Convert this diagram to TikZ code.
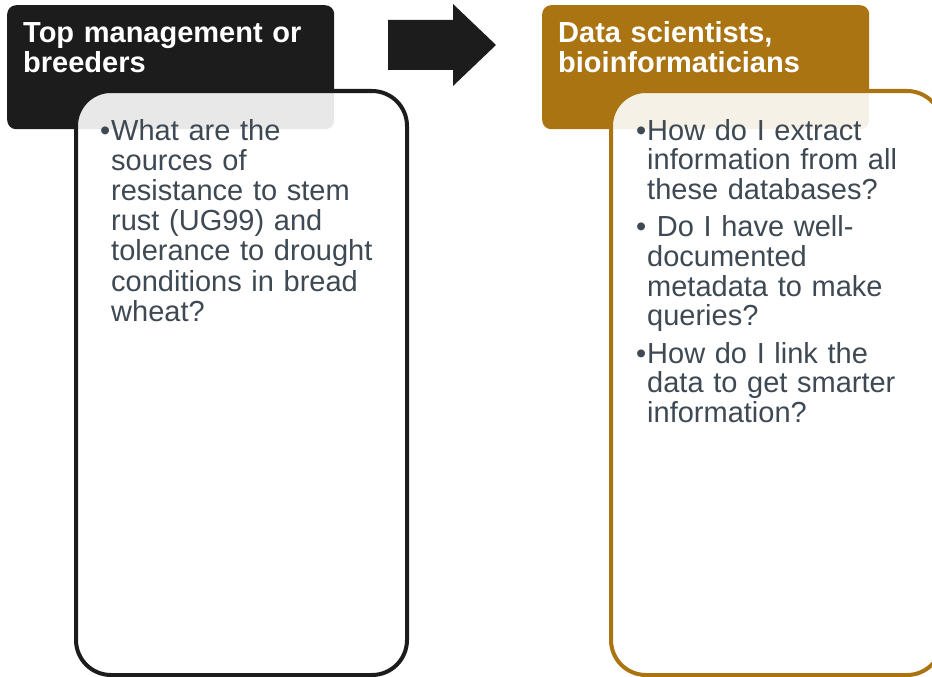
\documentclass[tikz,border=0pt]{standalone}
\usepackage{fontspec}
\setmainfont{Liberation Sans}
\definecolor{inkdark}{HTML}{1C1C1C}
\definecolor{gold}{HTML}{AA7412}
\definecolor{bodyc}{HTML}{3E4953}
\newcommand{\bulletmark}{\leavevmode\llap{•\hspace{1pt}}}
\begin{document}
\begin{tikzpicture}[x=1pt,y=-1pt]
\tikzset{
  hdr/.style={rectangle, rounded corners=9pt, minimum width=327pt, minimum height=124pt,
              anchor=north west, inner sep=0pt},
  card/.style={rectangle, rounded corners=35pt, line width=4pt, fill=white, fill opacity=0.9,
               minimum width=331pt, minimum height=584pt, anchor=north west, inner sep=0pt},
  hdrtext/.style={anchor=base west, align=left, text width=320pt, inner sep=0pt, text=white,
                  font=\fontsize{29}{29.6}\selectfont\bfseries},
  bodytext/.style={anchor=base west, align=left, text width=300pt, inner sep=0pt, text=bodyc,
                   font=\fontsize{29}{29.6}\selectfont},
  bigarrow/.style={fill=inkdark}
}
\useasboundingbox (0,0) rectangle (932,677);

% left column: header and card
\node[hdr, fill=inkdark] (h1) at (7,5) {};
\node[card, draw=inkdark] (c1) at (74,89) {};
\node[hdrtext] (t1) at (23,43) {Top management or\\breeders};
\node[bodytext, font=\fontsize{29}{30.2}\selectfont] (b1) at (111,140) {\bulletmark What are the\\sources of\\resistance to stem\\rust (UG99) and\\tolerance to drought\\conditions in bread\\wheat?};

% arrow between the columns
\coordinate (a0) at (388,20);
\coordinate (a1) at (453,20);
\coordinate (a2) at (453,4);
\coordinate (a3) at (496,45);
\coordinate (a4) at (453,86);
\coordinate (a5) at (453,70);
\coordinate (a6) at (388,70);
\fill[bigarrow] (a0) -- (a1) -- (a2) -- (a3) -- (a4) -- (a5) -- (a6) -- cycle;

% right column: header and card
\node[hdr, fill=gold] (h2) at (542,5) {};
\node[card, draw=gold] (c2) at (609,89) {};
\node[hdrtext] (t2) at (558,43) {Data scientists,\\bioinformaticians};
\node[bodytext] (b2) at (647,140) {\bulletmark How do I extract\\information from all\\these databases?\\[8pt]\bulletmark\ Do I have well-\\documented\\metadata to make\\queries?\\[8pt]\bulletmark How do I link the\\data to get smarter\\information?};
\end{tikzpicture}
\end{document}
